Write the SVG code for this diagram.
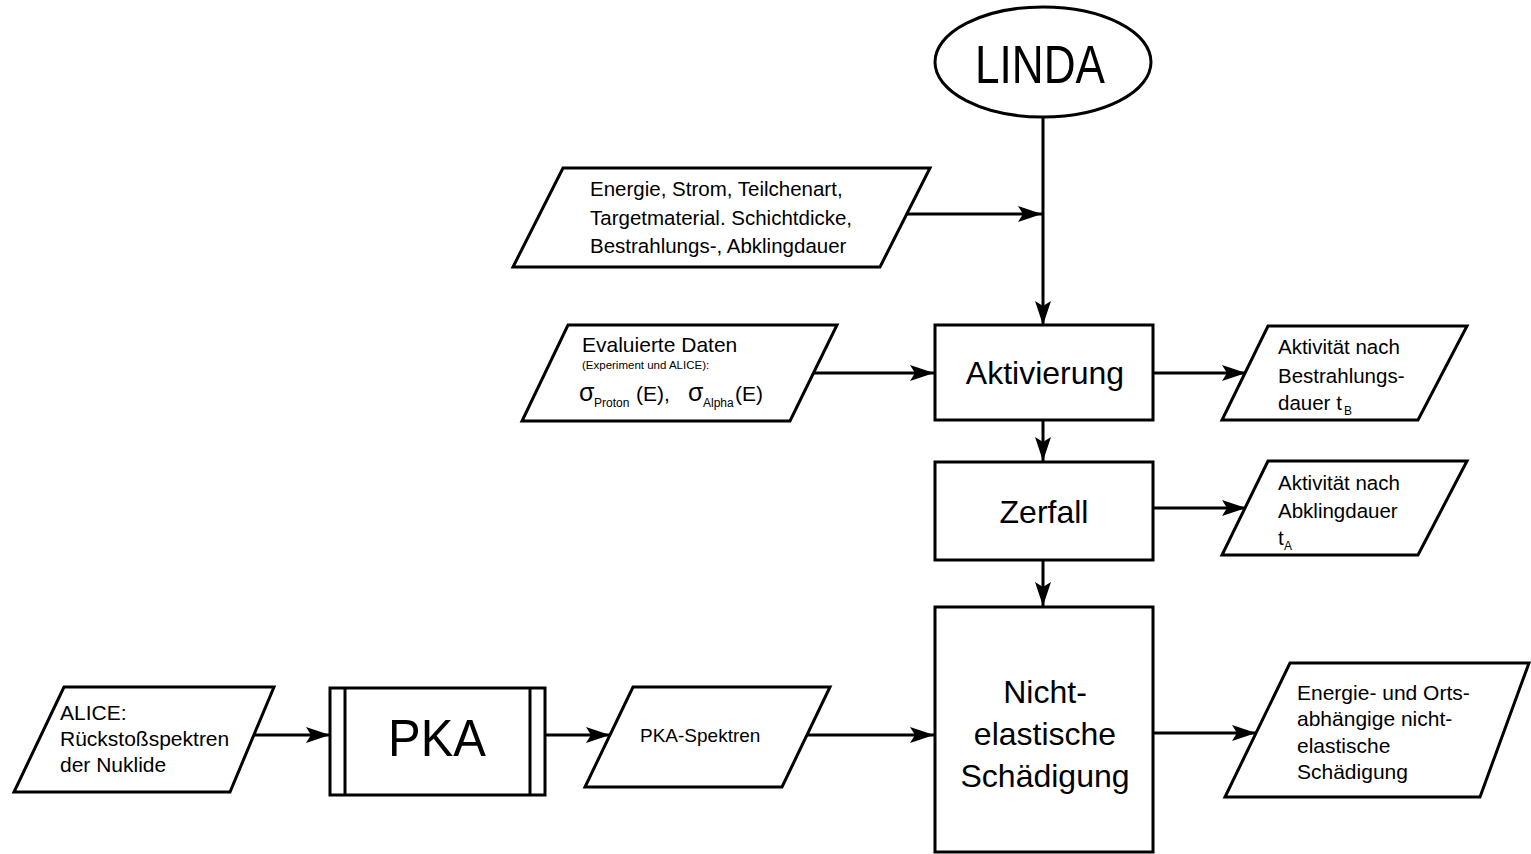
<svg xmlns="http://www.w3.org/2000/svg" width="1531" height="854" viewBox="0 0 1531 854">
<style>
.s{fill:#fff;stroke:#000;stroke-width:3}
.c{fill:none;stroke:#000;stroke-width:3}
text{font-family:"Liberation Sans",Arial,sans-serif;fill:#000}
.t{font-size:20.5px}
.b{font-size:32px;text-anchor:middle}
.sub{font-size:12px}
</style>
<defs>
<marker id="ah" markerUnits="userSpaceOnUse" markerWidth="26" markerHeight="18" refX="24" refY="8" orient="auto" overflow="visible">
<path d="M0,0 L24,8 L0,16 L5,8 z" fill="#000"/>
</marker>
</defs>
<rect width="1531" height="854" fill="#fff"/>
<g id="connectors">
<path class="c" d="M1043,117 V325" marker-end="url(#ah)"/>
<path class="c" d="M905,214 H1042" marker-end="url(#ah)"/>
<path class="c" d="M814,373 H934" marker-end="url(#ah)"/>
<path class="c" d="M1153,373 H1246" marker-end="url(#ah)"/>
<path class="c" d="M1043,420 V461" marker-end="url(#ah)"/>
<path class="c" d="M1153,508 H1246" marker-end="url(#ah)"/>
<path class="c" d="M1043,560 V606" marker-end="url(#ah)"/>
<path class="c" d="M252,735 H330" marker-end="url(#ah)"/>
<path class="c" d="M545,735 H610" marker-end="url(#ah)"/>
<path class="c" d="M807,735 H934" marker-end="url(#ah)"/>
<path class="c" d="M1153,733 H1256" marker-end="url(#ah)"/>
</g>
<g id="linda">
<ellipse class="s" cx="1043" cy="62" rx="108" ry="55"/>
<text x="1040" y="83" font-size="54" text-anchor="middle" textLength="130" lengthAdjust="spacingAndGlyphs">LINDA</text>
</g>
<g id="eingabe">
<polygon class="s" points="563,168 930,168 880,267 513,267"/>
<text class="t" x="590" y="196">Energie, Strom, Teilchenart,</text>
<text class="t" x="590" y="225">Targetmaterial. Schichtdicke,</text>
<text class="t" x="590" y="253">Bestrahlungs-, Abklingdauer</text>
</g>
<g id="daten">
<polygon class="s" points="568,325 837,325 790,421 522,421"/>
<text x="582" y="352" font-size="21">Evaluierte Daten</text>
<text x="582" y="369" font-size="11.5">(Experiment und ALICE):</text>
<text x="579" y="401" font-size="25">σ</text>
<text x="594" y="407" class="sub">Proton</text>
<text x="636" y="401" font-size="21">(E),</text>
<text x="688" y="401" font-size="25">σ</text>
<text x="703" y="407" class="sub">Alpha</text>
<text x="735" y="401" font-size="21">(E)</text>
</g>
<g id="aktivierung">
<rect class="s" x="935" y="325" width="218" height="95"/>
<text class="b" x="1045" y="384">Aktivierung</text>
</g>
<g id="akt-bestr">
<polygon class="s" points="1268,326 1467,326 1418,420 1222,420"/>
<text class="t" x="1278" y="354">Aktivität nach</text>
<text class="t" x="1278" y="383">Bestrahlungs-</text>
<text class="t" x="1278" y="410">dauer t</text>
<text class="sub" x="1344" y="415">B</text>
</g>
<g id="zerfall">
<rect class="s" x="935" y="462" width="218" height="98"/>
<text class="b" x="1044" y="523">Zerfall</text>
</g>
<g id="akt-abkl">
<polygon class="s" points="1268,461 1467,461 1418,555 1222,555"/>
<text class="t" x="1278" y="490">Aktivität nach</text>
<text class="t" x="1278" y="518">Abklingdauer</text>
<text class="t" x="1278" y="545">t</text>
<text class="sub" x="1284" y="550">A</text>
</g>
<g id="nichtelastisch">
<rect class="s" x="935" y="607" width="218" height="245"/>
<text class="b" x="1045" y="703">Nicht-</text>
<text class="b" x="1045" y="745">elastische</text>
<text class="b" x="1045" y="787">Schädigung</text>
</g>
<g id="ergebnis">
<polygon class="s" points="1290,663 1529,663 1480,797 1225,797"/>
<text x="1297" y="700" font-size="21">Energie- und Orts-</text>
<text x="1297" y="726" font-size="21">abhängige nicht-</text>
<text x="1297" y="753" font-size="21">elastische</text>
<text x="1297" y="779" font-size="21">Schädigung</text>
</g>
<g id="alice">
<polygon class="s" points="64,687 274,687 230,792 14,792"/>
<text x="60" y="720" font-size="21">ALICE:</text>
<text x="60" y="746" font-size="21">Rückstoßspektren</text>
<text x="60" y="772" font-size="21">der Nuklide</text>
</g>
<g id="pka">
<rect class="s" x="330" y="688" width="215" height="107"/>
<line class="c" x1="345" y1="688" x2="345" y2="795"/>
<line class="c" x1="530" y1="688" x2="530" y2="795"/>
<text x="437" y="756" font-size="52" text-anchor="middle" textLength="98" lengthAdjust="spacingAndGlyphs">PKA</text>
</g>
<g id="pka-spektren">
<polygon class="s" points="633,687 830,687 782,787 585,787"/>
<text x="640" y="742" font-size="19">PKA-Spektren</text>
</g>
</svg>
